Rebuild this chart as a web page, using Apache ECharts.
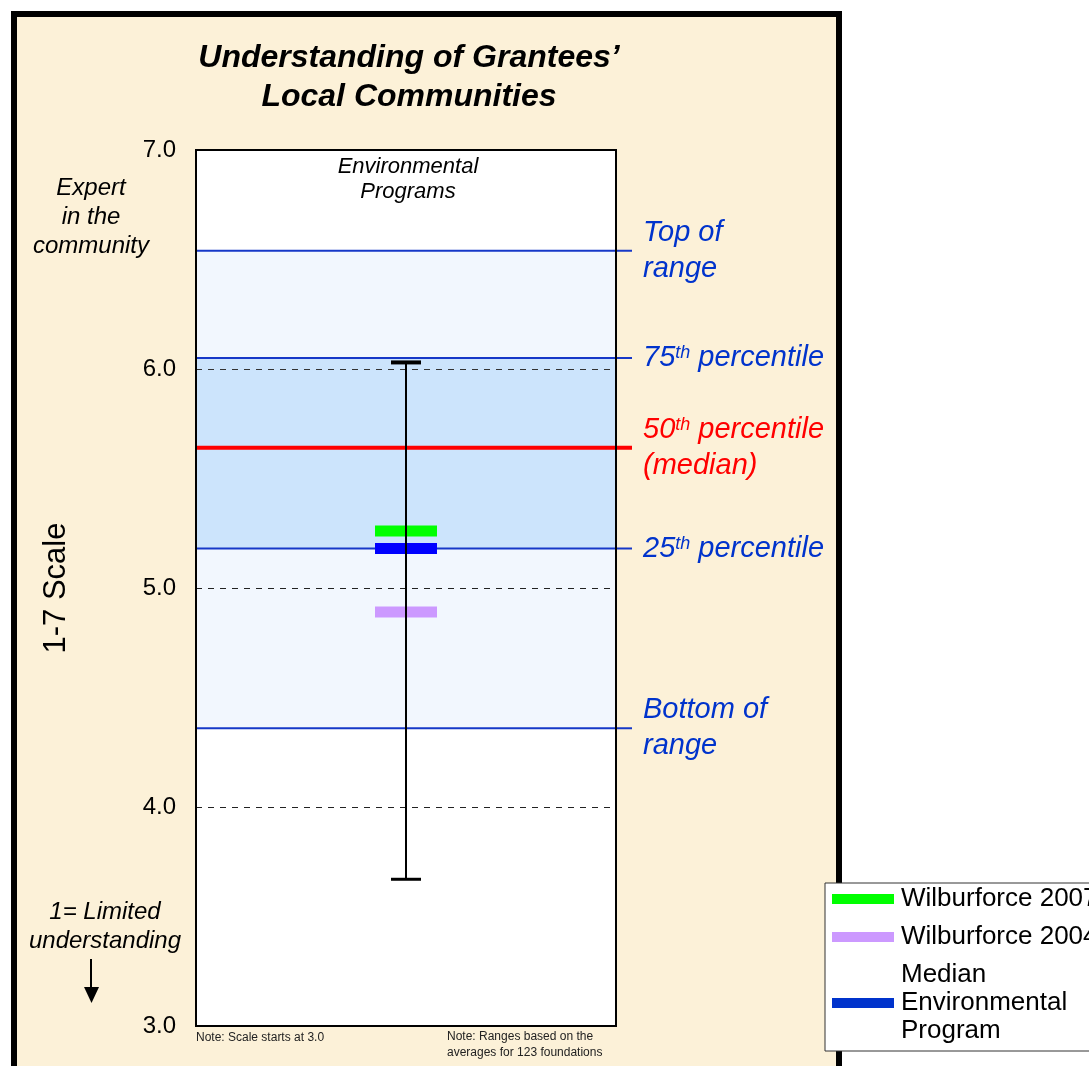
<!DOCTYPE html>
<html>
<head>
<meta charset="utf-8">
<script src="https://cdn.jsdelivr.net/npm/echarts@6/dist/echarts.min.js"></script>
<style>
  html, body { margin: 0; padding: 0; background: #ffffff; }
  #chart { width: 1089px; height: 1066px; }
</style>
</head>
<body>
<div id="chart"></div>
<script>
// Peer range levels for the environmental programs (1-7 scale)
const rangeNames = ['Top of range', '75th percentile', '50th percentile', '25th percentile', 'Bottom of range'];
const rangeValues = [6.54, 6.05, 5.64, 5.18, 4.36];

// Spread of the environmental programs (low, high)
const spreadValues = [3.67, 6.03];

// Ratings shown as horizontal markers
const markerNames = ['Wilburforce 2007', 'Wilburforce 2004', 'Median\nEnvironmental\nProgram'];
const markerValues = [5.26, 4.89, 5.18];
const markerColors = ['#00FF00', '#CC99FF', '#0000FF'];
const legendColors = ['#00FF00', '#CC99FF', '#0033CC'];

// Axis
const yTickLabels = ['3.0', '4.0', '5.0', '6.0', '7.0'];
const yMin = 3, yMax = 7, yInterval = 1;

const FONT = '"Liberation Sans", Arial, Helvetica, sans-serif';
const BLUE_TEXT = '#0033CC';
const BLUE_LINE = '#1638C8';

const chart = echarts.init(document.getElementById('chart'), null, { renderer: 'canvas' });

// Label text for each range level (rich text keeps the superscript "th")
function levelLabel(i) {
  switch (i) {
    case 0: return { text: '{n|Top of}\n{n|range}', color: BLUE_TEXT };
    case 1: return { text: '{n|75}{s|th}{n| percentile}', color: BLUE_TEXT };
    case 2: return { text: '{n|50}{s|th}{n| percentile}\n{n|(median)}', color: '#FF0000' };
    case 3: return { text: '{n|25}{s|th}{n| percentile}', color: BLUE_TEXT };
    default: return { text: '{n|Bottom of}\n{n|range}', color: BLUE_TEXT };
  }
}

// Background, shaded bands, level lines and their labels
function renderBands(params, api) {
  const tl = api.coord([0, yMax]);
  const br = api.coord([1, yMin]);
  const x0 = tl[0], x1 = br[0];
  const yOf = v => api.coord([0, v])[1];
  const children = [];
  children.push({ type: 'rect', shape: { x: x0, y: tl[1], width: x1 - x0, height: br[1] - tl[1] }, style: { fill: '#FFFFFF' } });
  children.push({ type: 'rect', shape: { x: x0, y: yOf(rangeValues[0]), width: x1 - x0, height: yOf(rangeValues[4]) - yOf(rangeValues[0]) }, style: { fill: '#F2F7FE' } });
  children.push({ type: 'rect', shape: { x: x0, y: yOf(rangeValues[1]), width: x1 - x0, height: yOf(rangeValues[3]) - yOf(rangeValues[1]) }, style: { fill: '#CCE4FC' } });
  rangeValues.forEach((v, i) => {
    const y = yOf(v);
    const isMedian = i === 2;
    children.push({
      type: 'line',
      shape: { x1: x0, y1: y, x2: x1 + 16, y2: y },
      style: { stroke: isMedian ? '#FF0000' : BLUE_LINE, lineWidth: isMedian ? 4 : 2 }
    });
    const lab = levelLabel(i);
    children.push({
      type: 'text',
      x: x1 + 27,
      y: y,
      style: {
        text: lab.text,
        fill: lab.color,
        align: 'left',
        verticalAlign: 'middle',
        fontFamily: FONT,
        fontStyle: 'italic',
        fontSize: 29,
        lineHeight: 36,
        rich: {
          n: { fontSize: 29, fontStyle: 'italic', fontFamily: FONT, lineHeight: 36, fill: lab.color },
          s: { fontSize: 18, fontStyle: 'italic', fontFamily: FONT, lineHeight: 36, verticalAlign: 'top', fill: lab.color, padding: [4, 0, 0, 0] }
        }
      }
    });
  });
  return { type: 'group', children: children };
}

// Vertical spread line with end caps
function renderSpread(params, api) {
  const x = api.value(0);
  const lo = api.coord([x, api.value(1)]);
  const hi = api.coord([x, api.value(2)]);
  return {
    type: 'group',
    children: [
      { type: 'line', shape: { x1: lo[0], y1: lo[1], x2: hi[0], y2: hi[1] }, style: { stroke: '#000', lineWidth: 2 } },
      { type: 'line', shape: { x1: hi[0] - 15, y1: hi[1], x2: hi[0] + 15, y2: hi[1] }, style: { stroke: '#000', lineWidth: 4 } },
      { type: 'line', shape: { x1: lo[0] - 15, y1: lo[1], x2: lo[0] + 15, y2: lo[1] }, style: { stroke: '#000', lineWidth: 3 } }
    ]
  };
}

// Plot frame
function renderFrame(params, api) {
  const tl = api.coord([0, yMax]);
  const br = api.coord([1, yMin]);
  return {
    type: 'rect',
    shape: { x: tl[0], y: tl[1], width: br[0] - tl[0], height: br[1] - tl[1] },
    style: { fill: null, stroke: '#000', lineWidth: 2 }
  };
}

const markerSeries = markerNames.map((name, i) => ({
  type: 'scatter',
  name: name,
  z: 4,
  silent: true,
  symbol: 'rect',
  symbolSize: [62, 11],
  itemStyle: { color: markerColors[i], opacity: 1 },
  data: [[0.5, markerValues[i]]]
}));

const option = {
  backgroundColor: '#FFFFFF',
  animation: false,
  title: {
    text: 'Understanding of Grantees’\nLocal Communities',
    left: 404,
    top: 34,
    textAlign: 'center',
    textStyle: { fontFamily: FONT, fontSize: 32, fontWeight: 'bold', fontStyle: 'italic', color: '#000', lineHeight: 39 }
  },
  graphic: [
    {
      type: 'rect', z: -10, silent: true,
      shape: { x: 14, y: 14, width: 825, height: 1075 },
      style: { fill: '#FCF1D8', stroke: '#000', lineWidth: 6 }
    },
    {
      type: 'text', silent: true, x: 91, y: 217, z: 10,
      style: { text: 'Expert\nin the\ncommunity', fill: '#000', font: 'italic 24px ' + FONT, align: 'center', verticalAlign: 'middle', lineHeight: 29 }
    },
    {
      type: 'text', silent: true, x: 105, y: 927, z: 10,
      style: { text: '1= Limited\nunderstanding', fill: '#000', font: 'italic 24px ' + FONT, align: 'center', verticalAlign: 'middle', lineHeight: 29 }
    },
    {
      type: 'line', silent: true, z: 10,
      shape: { x1: 91, y1: 959, x2: 91, y2: 990 },
      style: { stroke: '#000', lineWidth: 2 }
    },
    {
      type: 'polygon', silent: true, z: 10,
      shape: { points: [[84, 987], [99, 987], [91.5, 1003]] },
      style: { fill: '#000' }
    },
    {
      type: 'text', silent: true, x: 408, y: 179, z: 10,
      style: { text: 'Environmental\nPrograms', fill: '#000', font: 'italic 22px ' + FONT, align: 'center', verticalAlign: 'middle', lineHeight: 25 }
    },
    {
      type: 'text', silent: true, x: 196, y: 1038, z: 10,
      style: { text: 'Note: Scale starts at 3.0', fill: '#222', font: '12px ' + FONT, align: 'left', verticalAlign: 'middle' }
    },
    {
      type: 'text', silent: true, x: 447, y: 1045, z: 10,
      style: { text: 'Note: Ranges based on the\naverages for 123 foundations', fill: '#222', font: '12px ' + FONT, align: 'left', verticalAlign: 'middle', lineHeight: 16 }
    }
  ],
  legend: {
    orient: 'vertical',
    left: 825,
    top: 883,
    height: 200,
    selectedMode: false,
    icon: 'rect',
    itemWidth: 62,
    itemHeight: 10,
    itemGap: 10,
    padding: [2, 10, 6, 7],
    backgroundColor: '#FFFFFF',
    borderColor: '#333',
    borderWidth: 1,
    textStyle: { fontFamily: FONT, fontSize: 26, color: '#000', lineHeight: 28, padding: [0, 0, 0, 2] },
    data: markerNames.map((n, i) => ({ name: n, itemStyle: { color: legendColors[i] } }))
  },
  grid: { left: 196, top: 150, width: 420, height: 876, containLabel: false },
  xAxis: { type: 'value', min: 0, max: 1, show: false },
  yAxis: {
    type: 'value',
    min: yMin,
    max: yMax,
    interval: yInterval,
    z: 3,
    name: '1-7 Scale',
    nameLocation: 'middle',
    nameRotate: 90,
    nameGap: 124,
    nameTextStyle: { fontFamily: FONT, fontSize: 31, color: '#000' },
    axisLine: { show: false },
    axisTick: { show: false },
    axisLabel: {
      margin: 20,
      fontFamily: FONT,
      fontSize: 24,
      color: '#000',
      formatter: v => yTickLabels[Math.round((v - yMin) / yInterval)]
    },
    splitLine: {
      show: true,
      lineStyle: { color: ['transparent', '#222', '#222', '#333', 'transparent'], width: 1, type: [6, 6] }
    }
  },
  series: [
    {
      type: 'custom',
      name: 'bands',
      z: 1,
      silent: true,
      clip: false,
      renderItem: renderBands,
      data: [[0]]
    },
    ...markerSeries,
    {
      type: 'custom',
      name: 'spread',
      z: 5,
      silent: true,
      clip: false,
      renderItem: renderSpread,
      encode: { x: 0, y: [1, 2] },
      data: [[0.5, spreadValues[0], spreadValues[1]]]
    },
    {
      type: 'custom',
      name: 'frame',
      z: 6,
      silent: true,
      clip: false,
      renderItem: renderFrame,
      data: [[0]]
    }
  ]
};

chart.setOption(option);
</script>
</body>
</html>
